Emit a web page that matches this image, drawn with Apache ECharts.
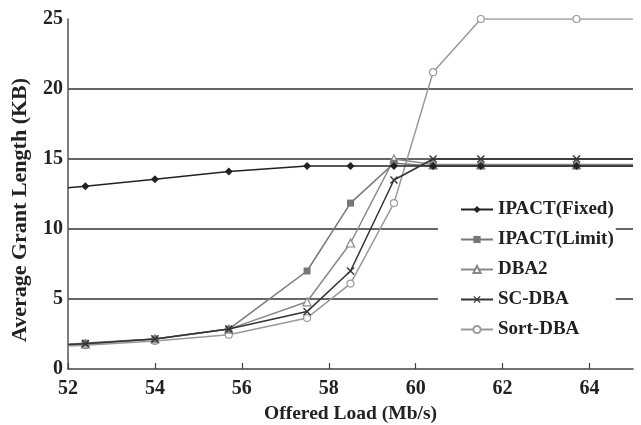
<!DOCTYPE html>
<html><head><meta charset="utf-8">
<script src="https://cdn.jsdelivr.net/npm/echarts@6/dist/echarts.min.js"></script>
<style>html,body{margin:0;padding:0;background:#fff}#c{width:641px;height:425px}</style>
</head><body><div id="c"></div>
<script>
var xs = [52, 52.4, 54, 55.7, 57.5, 58.5, 59.5, 60.4, 61.5, 63.7, 65];
var ipactFixed = [12.95, 13.05, 13.55, 14.1, 14.5, 14.5, 14.5, 14.5, 14.5, 14.5, 14.5];
var ipactLimit = [1.75, 1.85, 2.15, 2.85, 7.0, 11.85, 14.7, 14.5, 14.5, 14.5, 14.5];
var dba2 = [1.75, 1.8, 2.15, 2.85, 4.8, 9.0, 15.0, 14.6, 14.6, 14.6, 14.6];
var scDba = [1.75, 1.8, 2.15, 2.85, 4.1, 7.0, 13.5, 15.0, 15.0, 15.0, 15.0];
var sortDba = [1.65, 1.7, 2.0, 2.45, 3.65, 6.1, 11.85, 21.2, 25, 25, 25];
var names = ['IPACT(Fixed)', 'IPACT(Limit)', 'DBA2', 'SC-DBA', 'Sort-DBA'];

function pts(vals) {
  return xs.map(function (x, i) {
    var p = {value: [x, vals[i]]};
    if (i === 0 || i === xs.length - 1) p.symbol = 'none';
    return p;
  });
}
var F = 'Liberation Serif';
var cross = 'path://M0,1.2L1.2,0L5,3.8L8.8,0L10,1.2L6.2,5L10,8.8L8.8,10L5,6.2L1.2,10L0,8.8L3.8,5Z';
var styles = [
  {color: '#222', symbol: 'diamond', size: 8, fill: '#222', z: 5},
  {color: '#777', symbol: 'rect', size: 7, fill: '#777', z: 4},
  {color: '#888', symbol: 'triangle', size: 8, fill: '#fff', z: 3},
  {color: '#333', symbol: cross, size: 8, fill: '#333', z: 6},
  {color: '#999', symbol: 'circle', size: 7, fill: '#fff', z: 2}
];
var vals = [ipactFixed, ipactLimit, dba2, scDba, sortDba];
var series = names.map(function (n, k) {
  var s = styles[k];
  return {
    name: n, type: 'line', data: pts(vals[k]), z: s.z,
    symbol: s.symbol, symbolSize: s.size, showAllSymbol: true,
    lineStyle: {color: s.color, width: 1.5},
    itemStyle: {color: s.fill, borderColor: s.color, borderWidth: s.fill === '#fff' ? 1.2 : 0},
    emphasis: {disabled: true}, animation: false
  };
});
var chart = echarts.init(document.getElementById('c'));
chart.setOption({
  backgroundColor: '#fff',
  animation: false,
  grid: {left: 68, right: 8, top: 19, bottom: 56, containLabel: false, outerBoundsMode: 'none'},
  legend: {
    orient: 'vertical', left: 438, top: 195,
    padding: [5, 2, 5, 22], itemGap: 11, itemWidth: 32, itemHeight: 9,
    backgroundColor: '#fff', data: names,
    textStyle: {fontFamily: F, fontWeight: 'bold', fontSize: 19, color: '#222'}
  },
  xAxis: {
    type: 'value', min: 52, max: 65, interval: 2,
    name: 'Offered Load (Mb/s)', nameLocation: 'middle', nameGap: 35,
    nameTextStyle: {fontFamily: F, fontWeight: 'bold', fontSize: 19.5, color: '#222'},
    axisLine: {lineStyle: {color: '#444', width: 1.5}},
    axisTick: {inside: true, length: 6, lineStyle: {color: '#444', width: 1.2}},
    axisLabel: {fontFamily: F, fontWeight: 'bold', fontSize: 20, color: '#222', margin: 10,
      showMaxLabel: false},
    splitLine: {show: false}
  },
  yAxis: {
    type: 'value', min: 0, max: 25, interval: 5,
    name: 'Average Grant Length (KB)', nameLocation: 'middle', nameGap: 37,
    nameTextStyle: {fontFamily: F, fontWeight: 'bold', fontSize: 22, color: '#222', padding: [0, 32, 0, 0]},
    axisLine: {show: true, lineStyle: {color: '#555', width: 1.5}},
    axisTick: {show: false},
    axisLabel: {fontFamily: F, fontWeight: 'bold', fontSize: 20, color: '#222', margin: 5},
    splitLine: {show: true, showMinLine: false, showMaxLine: false, lineStyle: {color: '#333', width: 1.5}}
  },
  series: series
});
</script></body></html>
